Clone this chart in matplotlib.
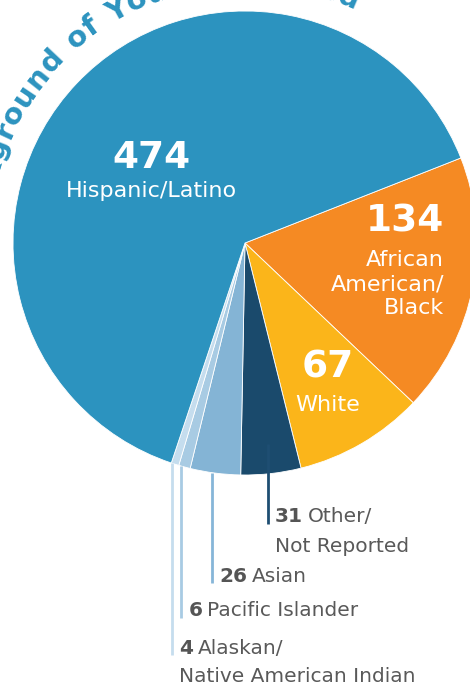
import numpy as np
import matplotlib
matplotlib.use('Agg')
import matplotlib.pyplot as plt
from matplotlib.textpath import text_to_path
from matplotlib.font_manager import FontProperties

# data, clockwise from the orange slice
groups = ['African American/Black', 'White', 'Other/Not Reported', 'Asian',
          'Pacific Islander', 'Alaskan/Native American Indian', 'Hispanic/Latino']
counts = [134, 67, 31, 26, 6, 4, 474]
colors = ['#F58A23', '#FBB51A', '#1A4A6C', '#84B4D5', '#A8CBE3', '#C5DDEE', '#2C93BF']
line_colors = ['#F58A23', '#FBB51A', '#1E4E72', '#86B6D8', '#A8CBE3', '#C5DDEE', '#2C93BF']

title = 'Background of Youth Enrolled'

W, H = 470, 687
FONT = 'DejaVu Sans'
BLUE = '#2C93BF'
GREY = '#595959'
CX, CY, R = 245, 243, 232   # centre in image pixels (from top)


def py(y):
    return H - y


fig = plt.figure(figsize=(W / 100, H / 100), dpi=100)
ax = fig.add_axes([0, 0, 1, 1])

wedges, _ = ax.pie(counts, colors=colors, startangle=21.5, counterclock=False,
                   center=(CX, py(CY)), radius=R, frame=True,
                   wedgeprops=dict(edgecolor='white', linewidth=0.6))
ax.set_xlim(0, W)
ax.set_ylim(0, H)
ax.set_aspect('equal')
ax.axis('off')

# labels inside the big slices
ax.text(151, py(158), '474', color='white', fontsize=27, fontweight='bold',
        family=FONT, ha='center', va='center')
ax.text(151, py(191), 'Hispanic/Latino', color='white', fontsize=16,
        family=FONT, ha='center', va='center')

ax.text(444, py(222), '134', color='white', fontsize=27, fontweight='bold',
        family=FONT, ha='right', va='center')
ax.text(444, py(284), 'African\nAmerican/\nBlack', color='white', fontsize=16,
        family=FONT, ha='right', va='center', linespacing=1.25)

ax.text(328, py(368), '67', color='white', fontsize=27, fontweight='bold',
        family=FONT, ha='center', va='center')
ax.text(328, py(405), 'White', color='white', fontsize=16,
        family=FONT, ha='center', va='center')

# leader lines + labels for the thin slices
small = [2, 3, 4, 5]
line_end = {2: 524, 3: 583, 4: 618, 5: 655}
inset = {2: 30, 3: 0, 4: 0, 5: 0}
label_lines = {2: ['Other/', 'Not Reported'], 3: ['Asian'],
               4: ['Pacific Islander'], 5: ['Alaskan/', 'Native American Indian']}

fig.canvas.draw()
renderer = fig.canvas.get_renderer()

for i in small:
    w = wedges[i]
    mid = np.deg2rad((w.theta1 + w.theta2) / 2)
    lx = CX + R * np.cos(mid) - 3
    dx = lx - CX
    top = CY + np.sqrt(R ** 2 - dx ** 2) - inset[i]
    ax.plot([lx, lx], [py(top), py(line_end[i])], color=line_colors[i],
            lw=2, solid_capstyle='butt', zorder=3)

    tx = lx + 7
    ty = line_end[i] - 7
    num = ax.text(tx, py(ty), str(counts[i]), color='#555555', fontsize=14.5,
                  fontweight='bold', family=FONT, ha='left', va='center')
    x1 = num.get_window_extent(renderer).x1
    ax.text(x1 + 5, py(ty), label_lines[i][0], color=GREY, fontsize=14.5,
            family=FONT, ha='left', va='center')
    if len(label_lines[i]) > 1:
        ax.text(tx, py(ty + 29), label_lines[i][1], color=GREY, fontsize=14.5,
                family=FONT, ha='left', va='center')

# curved title along the top of the pie (mostly cut off by the frame)
tsize = 21
prop = FontProperties(family=FONT, weight='bold', size=tsize)
scale = 100 / 72
track = 0.7
r_base = 257
widths = [text_to_path.get_text_width_height_descent(c if c != ' ' else 'n', prop, ismath=False)[0] * scale
          for c in title]
widths = [wd * (0.55 if c == ' ' else 1) for wd, c in zip(widths, title)]
centres = []
pos = 0
for wd in widths:
    centres.append(pos + wd / 2)
    pos += wd + track
anchor = title.index('of')  # centre of the 'o' sits at ~129 degrees
a0 = 129.2
for c, cpos in zip(title, centres):
    ang = a0 - np.rad2deg((cpos - centres[anchor]) / r_base)
    ra = np.deg2rad(ang)
    x = CX + r_base * np.cos(ra)
    y = CY - r_base * np.sin(ra)
    ax.text(x, py(y), c, color=BLUE, fontsize=tsize, fontweight='bold', family=FONT,
            ha='center', va='baseline', rotation=ang - 90, rotation_mode='anchor')

fig.savefig('out.png', dpi=100)
